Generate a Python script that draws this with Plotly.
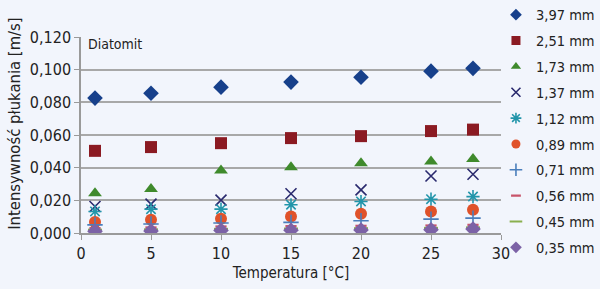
import plotly.graph_objects as go

temps = [1, 5, 10, 15, 20, 25, 28]

series_names = ["3,97 mm", "2,51 mm", "1,73 mm", "1,37 mm", "1,12 mm",
                "0,89 mm", "0,71 mm", "0,56 mm", "0,45 mm", "0,35 mm"]

v_397 = [0.0826, 0.0856, 0.0893, 0.0924, 0.0954, 0.0991, 0.1008]
v_251 = [0.0503, 0.0526, 0.0550, 0.0581, 0.0593, 0.0624, 0.0633]
v_173 = [0.0244, 0.0270, 0.0382, 0.0402, 0.0427, 0.0437, 0.0453]
v_137 = [0.0162, 0.0177, 0.0201, 0.0240, 0.0264, 0.0349, 0.0360]
v_112 = [0.0132, 0.0146, 0.0146, 0.0173, 0.0193, 0.0207, 0.0223]
v_089 = [0.0067, 0.0081, 0.0087, 0.0101, 0.0118, 0.0132, 0.0142]
v_071 = [0.0050, 0.0055, 0.0061, 0.0065, 0.0075, 0.0085, 0.0091]
v_056 = [0.0030, 0.0034, 0.0040, 0.0042, 0.0044, 0.0046, 0.0050]
v_045 = [0.0020, 0.0022, 0.0025, 0.0027, 0.0029, 0.0031, 0.0034]
v_035 = [0.0010, 0.0012, 0.0016, 0.0017, 0.0018, 0.0020, 0.0024]

values = [v_397, v_251, v_173, v_137, v_112, v_089, v_071, v_056, v_045, v_035]

styles = [
    dict(symbol="diamond", color="#17408B", size=12, lw=0, lsize=9),
    dict(symbol="square", color="#8B1A22", size=12, lw=0, lsize=9),
    dict(symbol="triangle-up", color="#3F8A2C", size=12, lw=0, lsize=9),
    dict(symbol="x-thin-open", color="#2A2A6E", size=11, lw=1.6, lsize=9),
    dict(symbol="asterisk-open", color="#2295AA", size=11, lw=1.6, lsize=9),
    dict(symbol="circle", color="#E0522A", size=12, lw=0, lsize=9),
    dict(symbol="cross-thin-open", color="#4A7EBB", size=11, lw=1.6, lsize=9),
    dict(symbol="line-ew-open", color="#C8546A", size=8, lw=2.2, lsize=7),
    dict(symbol="line-ew-open", color="#8AB04E", size=10, lw=2.2, lsize=9),
    dict(symbol="diamond", color="#7C62A6", size=12, lw=0, lsize=9),
]

font_family = "DejaVu Sans Condensed, Liberation Sans Narrow, Arial Narrow, Liberation Sans"
bg = "#F2F5FC"


def make_marker(st, size):
    m = dict(symbol=st["symbol"], size=size, color=st["color"])
    if st["lw"] > 0:
        m["line"] = dict(color=st["color"], width=st["lw"])
    else:
        m["line"] = dict(width=0)
    return m


fig = go.Figure()
for i, (name, vals, st) in enumerate(zip(series_names, values, styles)):
    fig.add_trace(go.Scatter(x=temps, y=vals, mode="markers", name=name,
                             legendgroup="g%d" % i, showlegend=False,
                             marker=make_marker(st, st["size"])))
# legend-only entries with the smaller legend symbols
for i, (name, st) in enumerate(zip(series_names, styles)):
    fig.add_trace(go.Scatter(x=[None], y=[None], mode="markers", name=name,
                             legendgroup="g%d" % i, showlegend=True,
                             marker=make_marker(st, st["lsize"])))

fig.update_layout(
    width=600, height=289,
    margin=dict(l=81, r=99, t=37, b=56, autoexpand=False),
    paper_bgcolor=bg, plot_bgcolor=bg,
    font=dict(family=font_family, size=15, color="#222222"),
    separators=",.",
    showlegend=True,
    legend=dict(x=0.988, xanchor="left", y=1.195, yanchor="top",
                font=dict(size=14.5, family=font_family, color="#222222"),
                bgcolor="rgba(0,0,0,0)", itemwidth=30, tracegroupgap=4,
                maxheight=289),
    annotations=[
        dict(text="Diatomit", x=0.012, y=1.015, xref="paper", yref="paper",
             xanchor="left", yanchor="top", showarrow=False,
             font=dict(size=14, family=font_family, color="#222222")),
        dict(text="Intensywność płukania [m/s]", x=-0.16, y=0.561,
             xref="paper", yref="paper", xanchor="center", yanchor="middle",
             textangle=-90, showarrow=False,
             font=dict(size=16.5, family=font_family, color="#222222")),
    ],
)
fig.update_xaxes(range=[0, 30], dtick=5, tick0=0, showgrid=False,
                 showline=True, linecolor="#9A9A9A", linewidth=1.5,
                 ticks="outside", ticklen=5, tickcolor="#9A9A9A",
                 title=dict(text="Temperatura [°C]", standoff=6, font=dict(size=15)),
                 tickfont=dict(size=16), zeroline=False)
fig.update_yaxes(range=[0, 0.12], dtick=0.02, tick0=0, tickformat=".3f",
                 showgrid=True, gridcolor="#A8A8A8", gridwidth=1.5,
                 showline=True, linecolor="#9A9A9A", linewidth=1.5,
                 ticks="outside", ticklen=5, tickcolor="#9A9A9A",
                 tickfont=dict(size=16), zeroline=False)

fig.write_html("out.html")
